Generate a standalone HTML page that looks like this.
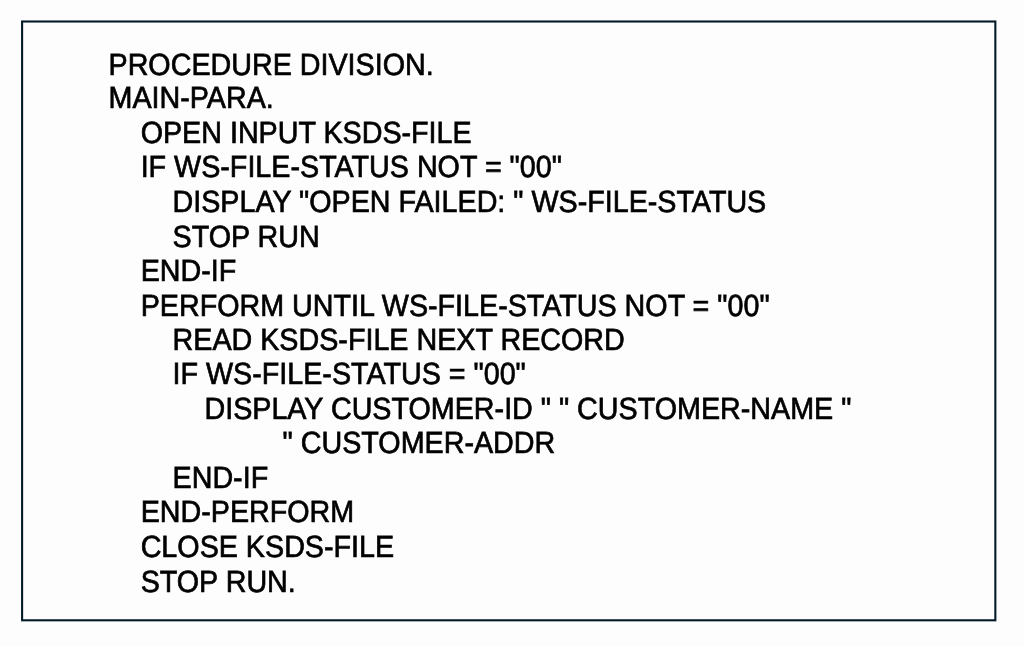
<!DOCTYPE html>
<html><head><meta charset="utf-8">
<style>
html,body{margin:0;padding:0;background:#fdfdfd;width:1024px;height:646px;overflow:hidden;}
svg.b{position:absolute;left:0;top:0;}
.l{position:absolute;font-family:"Liberation Sans",sans-serif;font-size:28.7px;color:#000;white-space:pre;line-height:28.7px;letter-spacing:0px;transform-origin:0 0;transform:scaleY(1.065);backface-visibility:hidden;-webkit-text-stroke:0.65px #000;text-rendering:geometricPrecision;}
</style></head><body>
<svg class="b" width="1024" height="646"><rect x="22.1" y="21.5" width="973.25" height="598.80" fill="#fdfdfd" stroke="#031a27" stroke-width="2.1"/></svg>
<div class="l" style="left:108.50px;top:51px">PROCEDURE DIVISION.</div>
<div class="l" style="left:108.50px;top:84px">MAIN-PARA.</div>
<div class="l" style="left:140.65px;top:119px">OPEN INPUT KSDS-FILE</div>
<div class="l" style="left:140.65px;top:153px">IF WS-FILE-STATUS NOT = "00"</div>
<div class="l" style="left:172.55px;top:188px">DISPLAY "OPEN FAILED: " WS-FILE-STATUS</div>
<div class="l" style="left:172.55px;top:223px">STOP RUN</div>
<div class="l" style="left:140.65px;top:257px">END-IF</div>
<div class="l" style="left:140.65px;top:292px">PERFORM UNTIL WS-FILE-STATUS NOT = "00"</div>
<div class="l" style="left:172.55px;top:326px">READ KSDS-FILE NEXT RECORD</div>
<div class="l" style="left:172.55px;top:360px">IF WS-FILE-STATUS = "00"</div>
<div class="l" style="left:204.45px;top:395px">DISPLAY CUSTOMER-ID " " CUSTOMER-NAME "</div>
<div class="l" style="left:282.60px;top:429px">" CUSTOMER-ADDR</div>
<div class="l" style="left:172.55px;top:464px">END-IF</div>
<div class="l" style="left:140.65px;top:498px">END-PERFORM</div>
<div class="l" style="left:140.65px;top:533px">CLOSE KSDS-FILE</div>
<div class="l" style="left:140.65px;top:568px">STOP RUN.</div>
</body></html>
